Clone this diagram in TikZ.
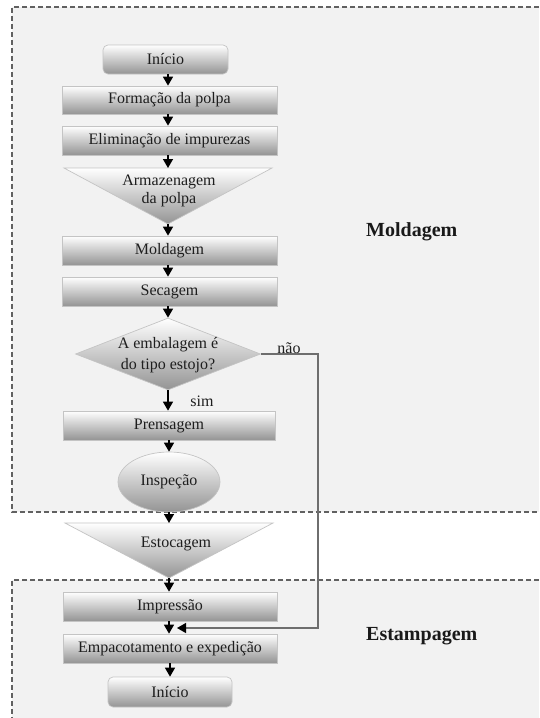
\documentclass[tikz,border=0pt]{standalone}
\usepackage{fontspec}
\setmainfont{Liberation Serif}
\usetikzlibrary{shapes.geometric,arrows.meta}
\definecolor{panel}{HTML}{F2F2F2}
\definecolor{edge}{HTML}{C4C4C4}
\definecolor{txt}{HTML}{1E1E1E}
\definecolor{naoline}{HTML}{6E6E6E}
\tikzset{
  shadefill/.style={draw=edge, line width=0.7pt, top color=white, bottom color=black!42},
  proc/.style={shadefill, minimum width=215pt, minimum height=29pt, inner sep=0pt,
    font=\fontsize{16}{19}\selectfont, text=txt},
  term/.style={proc, rounded corners=5pt, minimum width=124pt, minimum height=30pt},
  lbl/.style={font=\fontsize{16}{19}\selectfont, text=txt, inner sep=0pt},
  flow/.style={-{Triangle[width=10pt,length=9pt]}, line width=1.4pt, black},
  naoflow/.style={-{Triangle[width=10pt,length=9pt,color=black]}, line width=1.2pt, naoline},
  zoneline/.style={draw=black!62, line width=1.1pt, dash pattern=on 5pt off 3pt},
  zonelbl/.style={font=\bfseries\fontsize{20}{24}\selectfont, text=black!90, inner sep=0pt, anchor=west},
}
\begin{document}
\begin{tikzpicture}[x=1pt,y=-1pt]
\useasboundingbox (0,0) rectangle (539,718);
\fill[white] (0,0) rectangle (539,718);
% zones
\fill[panel] (12,7) rectangle (539,512);
\draw[zoneline] (539,7) -- (12,7) -- (12,512) -- (539,512);
\fill[panel] (12,580) rectangle (539,718);
\draw[zoneline] (539,580) -- (12,580) -- (12,718);
\node[zonelbl] (lblmold) at (366,232) {Moldagem};
\node[zonelbl] (lblestamp) at (366,636) {Estampagem};

% nodes
\node[term, minimum width=125pt, minimum height=29pt] (ini1) at (165.5,59.5) {Início};
\node[proc, minimum height=28pt] (form) at (169.5,100) {Formação da polpa};
\node[proc] (elim) at (169.5,140.5) {Eliminação de impurezas};
% Armazenagem triangle
\path[shadefill] (64,168) -- (272,168) -- (168,224) -- cycle;
\coordinate (armT) at (168,168);
\coordinate (armA) at (168,224);
\node[lbl, align=center, font=\fontsize{16}{18.5}\selectfont] (arm) at (169,191) {Armazenagem\\da polpa};
\node[proc] (mold) at (169.5,250.5) {Moldagem};
\node[proc] (sec) at (169.5,291.5) {Secagem};
\node[shadefill, diamond, aspect=2.57, minimum width=185pt, minimum height=72pt, inner sep=0pt] (dia) at (168,354) {};
\node[lbl, align=center, font=\fontsize{16}{20.5}\selectfont] (diatxt) at (168,355) {A embalagem é\\do tipo estojo?};
\node[proc, minimum width=212pt] (prens) at (169,425.5) {Prensagem};
\node[shadefill, ellipse, minimum width=102pt, minimum height=60pt, inner sep=0pt,
      font=\fontsize{16}{19}\selectfont, text=txt] (insp) at (169,482) {Inspeção};
% Estocagem triangle
\path[shadefill] (65,523) -- (273,523) -- (169,578) -- cycle;
\coordinate (estT) at (169,523);
\coordinate (estA) at (169,578);
\node[lbl] (est) at (176,544) {Estocagem};
\node[proc, minimum width=214pt] (impr) at (170,606.5) {Impressão};
\node[proc, minimum width=214pt] (emp) at (170,648.5) {Empacotamento e expedição};
\node[term] (ini2) at (170,692) {Início};

% labels on branch
\node[lbl] (sim) at (202,401) {sim};
\node[lbl] (nao) at (289,348) {não};

% connectors
\draw[flow] (ini1.south -| 168,0) -- (form.north -| 168,0);
\draw[flow] (form.south -| 168,0) -- (elim.north -| 168,0);
\draw[flow] (elim.south -| 168,0) -- (armT);
\draw[flow] (armA) -- (mold.north -| 168,0);
\draw[flow] (mold.south -| 168,0) -- (sec.north -| 168,0);
\draw[flow] (sec.south -| 168,0) -- (dia.north);
\draw[flow] (dia.south) -- (prens.north -| 168,0);
\draw[flow] (prens.south -| 169,0) -- (insp.north);
\draw[flow] (insp.south) -- (estT);
\draw[flow] (estA) -- (impr.north -| 169,0);
\draw[flow] (impr.south -| 169,0) -- (emp.north -| 169,0);
\draw[flow] (emp.south -| 170,0) -- (ini2.north);
\coordinate (loopx) at (318,0);
\coordinate (merge) at (177,628);
\draw[naoflow] (dia.east) -- (dia.east -| loopx) |- (merge);
\end{tikzpicture}
\end{document}
